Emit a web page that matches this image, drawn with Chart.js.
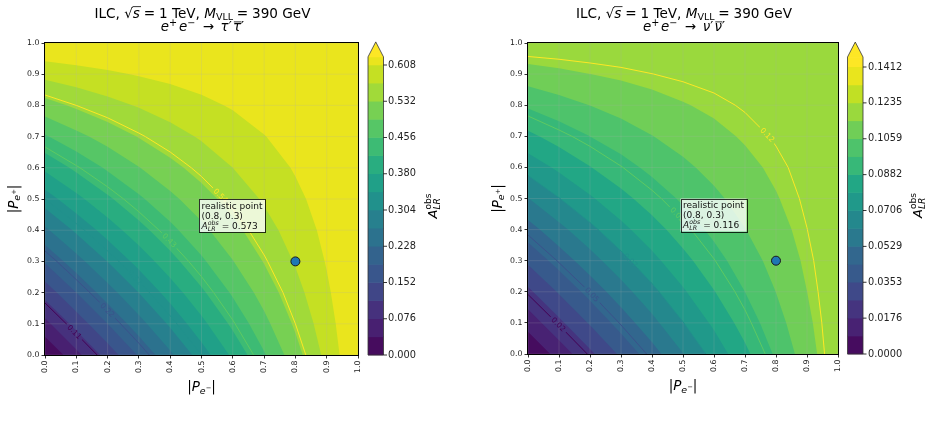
<!DOCTYPE html>
<html><head><meta charset="utf-8">
<script src="https://cdn.jsdelivr.net/npm/chart.js@4.4.1/dist/chart.umd.min.js"></script>
<style>
html,body{margin:0;padding:0;background:#fff;}
body{width:931px;height:425px;position:relative;overflow:hidden;}
canvas{position:absolute;top:0;}
</style></head><body>
<canvas id="cTau" width="465" height="425" style="left:0"></canvas>
<canvas id="cNu" width="448" height="425" style="left:483px"></canvas>
<script>
// ---------------- data ----------------
const polE = [0.0,0.1,0.2,0.3,0.4,0.5,0.6,0.7,0.8,0.9,1.0];   // |P_e-| grid (x)
const polP = [0.0,0.1,0.2,0.3,0.4,0.5,0.6,0.7,0.8,0.9,1.0];   // |P_e+| grid (y)
const axisTicks = [0.0,0.1,0.2,0.3,0.4,0.5,0.6,0.7,0.8,0.9,1.0];

// A_LR^obs, rows follow polP, columns follow polE  (tau' channel)
const tauALR = [
 [0.0000,0.0646,0.1292,0.1938,0.2584,0.3230,0.3876,0.4522,0.5168,0.5814,0.6460],
 [0.0646,0.1279,0.1900,0.2508,0.3106,0.3691,0.4266,0.4830,0.5383,0.5926,0.6460],
 [0.1292,0.1900,0.2485,0.3047,0.3589,0.4111,0.4614,0.5100,0.5569,0.6022,0.6460],
 [0.1938,0.2508,0.3047,0.3556,0.4038,0.4494,0.4927,0.5339,0.5731,0.6104,0.6460],
 [0.2584,0.3106,0.3589,0.4038,0.4455,0.4845,0.5210,0.5552,0.5873,0.6175,0.6460],
 [0.3230,0.3691,0.4111,0.4494,0.4845,0.5168,0.5466,0.5742,0.5999,0.6237,0.6460],
 [0.3876,0.4266,0.4614,0.4927,0.5210,0.5466,0.5700,0.5914,0.6111,0.6292,0.6460],
 [0.4522,0.4830,0.5100,0.5339,0.5552,0.5742,0.5914,0.6070,0.6211,0.6341,0.6460],
 [0.5168,0.5383,0.5569,0.5731,0.5873,0.5999,0.6111,0.6211,0.6302,0.6385,0.6460],
 [0.5814,0.5926,0.6022,0.6104,0.6175,0.6237,0.6292,0.6341,0.6385,0.6424,0.6460],
 [0.6460,0.6460,0.6460,0.6460,0.6460,0.6460,0.6460,0.6460,0.6460,0.6460,0.6460]
];
// nu' channel
const nuALR = [
 [0.0000,0.0123,0.0246,0.0369,0.0492,0.0615,0.0738,0.0861,0.0984,0.1107,0.1230],
 [0.0123,0.0244,0.0362,0.0478,0.0591,0.0703,0.0812,0.0920,0.1025,0.1128,0.1230],
 [0.0246,0.0362,0.0473,0.0580,0.0683,0.0783,0.0879,0.0971,0.1060,0.1147,0.1230],
 [0.0369,0.0478,0.0580,0.0677,0.0769,0.0856,0.0938,0.1016,0.1091,0.1162,0.1230],
 [0.0492,0.0591,0.0683,0.0769,0.0848,0.0923,0.0992,0.1057,0.1118,0.1176,0.1230],
 [0.0615,0.0703,0.0783,0.0856,0.0923,0.0984,0.1041,0.1093,0.1142,0.1188,0.1230],
 [0.0738,0.0812,0.0879,0.0938,0.0992,0.1041,0.1085,0.1126,0.1163,0.1198,0.1230],
 [0.0861,0.0920,0.0971,0.1016,0.1057,0.1093,0.1126,0.1156,0.1183,0.1207,0.1230],
 [0.0984,0.1025,0.1060,0.1091,0.1118,0.1142,0.1163,0.1183,0.1200,0.1216,0.1230],
 [0.1107,0.1128,0.1147,0.1162,0.1176,0.1188,0.1198,0.1207,0.1216,0.1223,0.1230],
 [0.1230,0.1230,0.1230,0.1230,0.1230,0.1230,0.1230,0.1230,0.1230,0.1230,0.1230]
];

const tauFillLevels = [0,0.038,0.076,0.114,0.152,0.190,0.228,0.266,0.304,0.342,0.380,0.418,0.456,0.494,0.532,0.570,0.608,0.646];
const nuFillLevels  = [0,0.008825,0.01765,0.026475,0.0353,0.044125,0.05295,0.061775,0.0706,0.079425,0.08825,0.097075,0.1059,0.114725,0.12355,0.132375,0.1412];

const tauLineLevels = [0.1077,0.2153,0.3230,0.4307,0.5383];
const tauLineLabels = ['0.11','0.22','0.32','0.43','0.54'];
const nuLineLevels  = [0.02353,0.04707,0.0706,0.09413,0.11767];
const nuLineLabels  = ['0.02','0.05','0.07','0.09','0.12'];

const tauCbTicks = [0,0.076,0.152,0.228,0.304,0.380,0.456,0.532,0.608];
const tauCbTickLabels = ['0.000','0.076','0.152','0.228','0.304','0.380','0.456','0.532','0.608'];
const nuCbTicks = [0,0.01765,0.0353,0.05295,0.0706,0.08825,0.1059,0.12355,0.1412];
const nuCbTickLabels = ['0.0000','0.0176','0.0353','0.0529','0.0706','0.0882','0.1059','0.1235','0.1412'];

const realisticPoint = [0.8, 0.3];
const tauRealisticALR = '0.573';
const nuRealisticALR = '0.116';

// ---------------- styling helpers ----------------
const FONT = '"DejaVu Sans"';
const VIRIDIS = ['#440154','#471365','#482475','#46327e','#414487','#3b528b','#355f8d','#31688e','#2a788e','#26828e','#21918c','#1f9e89','#22a884','#35b779','#44bf70','#5ec962','#7ad151','#9fda3a','#bddf26','#dde318','#fde725'];
const OVER = '#fde725';
const GRID = 'rgba(176,176,176,0.25)';
function hx(h){return [parseInt(h.slice(1,3),16),parseInt(h.slice(3,5),16),parseInt(h.slice(5,7),16)];}
function viridis(t){
  t=Math.max(0,Math.min(1,t)); const f=t*20; const i=Math.min(19,Math.floor(f)); const u=f-i;
  const a=hx(VIRIDIS[i]), b=hx(VIRIDIS[i+1]);
  return 'rgb('+[0,1,2].map(k=>Math.round(a[k]+(b[k]-a[k])*u)).join(',')+')';
}
function fnt(q,base){return (q.it?'italic ':'')+(base*(q.sc||1)).toFixed(2)+'px '+FONT;}
function richMeasure(ctx,parts,base){
  let w=0;
  for(const p of parts){const list=p.stack||[p];let m=0;
    for(const q of list){ctx.font=fnt(q,base);m=Math.max(m,ctx.measureText(q.t).width);}
    p._w=m+((p.gl||0)+(p.gr||0))*base;w+=p._w;}
  return w;
}
function drawRich(ctx,parts,x,y,base,align,color){
  const w=richMeasure(ctx,parts,base);
  let cx=align==='center'?x-w/2:(align==='right'?x-w:x);
  ctx.textAlign='left';ctx.textBaseline='alphabetic';ctx.fillStyle=color||'#000';ctx.strokeStyle=color||'#000';
  for(const p of parts){
    const list=p.stack||[p];const ox=(p.gl||0)*base;
    for(const q of list){
      ctx.font=fnt(q,base);const yy=y+(q.dy||0)*base;
      ctx.fillText(q.t,cx+ox,yy);
      if(q.over){const qw=ctx.measureText(q.t).width;ctx.beginPath();ctx.lineWidth=0.8;
        ctx.moveTo(cx+ox+q.over[0]*qw,yy+q.over[2]*base);ctx.lineTo(cx+ox+q.over[1]*qw,yy+q.over[2]*base);ctx.stroke();}
    }
    cx+=p._w;
  }
  return w;
}
function cellCorners(Z,i,j){
  return [[polE[j],polP[i],Z[i][j]],[polE[j+1],polP[i],Z[i][j+1]],[polE[j+1],polP[i+1],Z[i+1][j+1]],[polE[j],polP[i+1],Z[i+1][j]]];
}
function cellPoly(Z,i,j,t){
  const c=cellCorners(Z,i,j);const pts=[];
  for(let k=0;k<4;k++){const a=c[k],b=c[(k+1)%4];const ia=a[2]>=t,ib=b[2]>=t;
    if(ia)pts.push([a[0],a[1]]);
    if(ia!==ib){const f=(t-a[2])/(b[2]-a[2]);pts.push([a[0]+f*(b[0]-a[0]),a[1]+f*(b[1]-a[1])]);}
  }
  return pts;
}
function levelSegs(Z,t){
  const out=[];
  for(let i=0;i<polP.length-1;i++)for(let j=0;j<polE.length-1;j++){
    const c=cellCorners(Z,i,j);const p=[];
    for(let k=0;k<4;k++){const a=c[k],b=c[(k+1)%4];
      if((a[2]>=t)!==(b[2]>=t)){const f=(t-a[2])/(b[2]-a[2]);p.push([a[0]+f*(b[0]-a[0]),a[1]+f*(b[1]-a[1])]);}}
    if(p.length===2)out.push(p);else if(p.length===4){out.push([p[0],p[1]]);out.push([p[2],p[3]]);}
  }
  return out;
}

function panelPlugin(P){
  return {
    id:'panel_'+P.key,
    beforeDatasetsDraw(chart){
      const ctx=chart.ctx,a=chart.chartArea,sx=chart.scales.x,sy=chart.scales.y;
      const X=v=>sx.getPixelForValue(v),Y=v=>sy.getPixelForValue(v);
      const lv=P.fill,n=lv.length,top=lv[n-1];
      ctx.save();ctx.beginPath();ctx.rect(a.left,a.top,a.right-a.left,a.bottom-a.top);ctx.clip();
      for(let k=0;k<n;k++){
        // the extension band only takes values strictly above the last level
        const t=k<n-1?lv[k]:lv[k]+1e-9;
        const col=k<n-1?viridis(((lv[k]+lv[k+1])/2-lv[0])/(top-lv[0])):OVER;
        ctx.beginPath();let any=false;
        for(let i=0;i<polP.length-1;i++)for(let j=0;j<polE.length-1;j++){
          const pts=cellPoly(P.z,i,j,t);if(pts.length<3)continue;
          ctx.moveTo(X(pts[0][0]),Y(pts[0][1]));
          for(let m=1;m<pts.length;m++)ctx.lineTo(X(pts[m][0]),Y(pts[m][1]));
          ctx.closePath();any=true;
        }
        if(any){ctx.fillStyle=col;ctx.fill();}
      }
      // grid
      ctx.strokeStyle=GRID;ctx.lineWidth=0.8;ctx.beginPath();
      sx.ticks.forEach(tk=>{const px=X(tk.value);ctx.moveTo(px,a.top);ctx.lineTo(px,a.bottom);});
      sy.ticks.forEach(tk=>{const py=Y(tk.value);ctx.moveTo(a.left,py);ctx.lineTo(a.right,py);});
      ctx.stroke();
      // contour lines with inline labels
      const nl=P.lines.length;const labs=[];
      const allSegs=P.lines.map(L=>levelSegs(P.z,L).map(s=>s.map(p=>[X(p[0]),Y(p[1])])));
      ctx.font=P.labFont+'px '+FONT;
      P.lines.forEach((L,li)=>{
        const an=P.labelAt[li];if(!an)return;
        const ax=X(an[0]),ay=Y(an[1]);let best=null;
        allSegs[li].forEach(s=>{const dx=s[1][0]-s[0][0],dy=s[1][1]-s[0][1];const l2=dx*dx+dy*dy||1;
          let u=((ax-s[0][0])*dx+(ay-s[0][1])*dy)/l2;u=Math.max(0,Math.min(1,u));
          const qx=s[0][0]+u*dx,qy=s[0][1]+u*dy;const d=(qx-ax)**2+(qy-ay)**2;
          if(!best||d<best.d)best={d,x:qx,y:qy,ang:Math.atan2(dy,dx)};});
        if(!best)return;let ang=best.ang;if(ang>Math.PI/2)ang-=Math.PI;if(ang<=-Math.PI/2)ang+=Math.PI;
        labs.push({x:best.x,y:best.y,ang,text:P.lineLabels[li],col:viridis(li/(nl-1)),w:ctx.measureText(P.lineLabels[li]).width});
      });
      ctx.save();ctx.beginPath();ctx.rect(a.left,a.top,a.right-a.left,a.bottom-a.top);
      labs.forEach(lb=>{const c=Math.cos(lb.ang),s=Math.sin(lb.ang);const hw=lb.w/2+2.5,hh=P.labFont*0.7;
        const pts=[[-hw,-hh],[hw,-hh],[hw,hh],[-hw,hh]].map(p=>[lb.x+p[0]*c-p[1]*s,lb.y+p[0]*s+p[1]*c]);
        ctx.moveTo(pts[0][0],pts[0][1]);for(let m=1;m<4;m++)ctx.lineTo(pts[m][0],pts[m][1]);ctx.closePath();});
      ctx.clip('evenodd');
      ctx.lineWidth=1;
      allSegs.forEach((segs,li)=>{ctx.strokeStyle=viridis(li/(nl-1));ctx.beginPath();
        segs.forEach(s=>{ctx.moveTo(s[0][0],s[0][1]);ctx.lineTo(s[1][0],s[1][1]);});ctx.stroke();});
      ctx.restore();
      labs.forEach(lb=>{ctx.save();ctx.translate(lb.x,lb.y);ctx.rotate(lb.ang);ctx.fillStyle=lb.col;
        ctx.font=P.labFont+'px '+FONT;ctx.textAlign='center';ctx.textBaseline='middle';ctx.fillText(lb.text,0,0.5);ctx.restore();});
      ctx.restore();
    },
    afterDraw(chart){
      const ctx=chart.ctx,a=chart.chartArea,sx=chart.scales.x,sy=chart.scales.y,cb=chart.scales.cb;
      const X=v=>sx.getPixelForValue(v),Y=v=>sy.getPixelForValue(v);
      ctx.save();
      // annotation box
      const bx=X(0.5),by=Y(0.4);
      const l1=[{t:'realistic point'}],l2=[{t:'('+realisticPoint[0]+', '+realisticPoint[1]+')'}];
      const l3=[{t:'A',it:true},{stack:[{t:'obs',it:true,sc:0.7,dy:-0.42},{t:'LR',it:true,sc:0.7,dy:0.24}]},{t:' = '+P.val}];
      const fs=9;const w=Math.max(richMeasure(ctx,l1,fs),richMeasure(ctx,l2,fs),richMeasure(ctx,l3,fs));
      ctx.globalAlpha=0.8;ctx.fillStyle='#fff';ctx.fillRect(bx-2.5,by-31,w+5,33);
      ctx.strokeStyle='#000';ctx.lineWidth=1;ctx.strokeRect(Math.round(bx-2.5)+0.5,Math.round(by-31)+0.5,Math.round(w+5),33);
      ctx.globalAlpha=1;
      drawRich(ctx,l1,bx,by-21.7,fs,'left','#111');
      drawRich(ctx,l2,bx,by-11.7,fs,'left','#111');
      drawRich(ctx,l3,bx,by-1.7,fs,'left','#111');
      // frame
      ctx.strokeStyle='#000';ctx.lineWidth=1;
      ctx.strokeRect(Math.round(a.left)-0.5,Math.round(a.top)-0.5,Math.round(a.right-a.left)+1,Math.round(a.bottom-a.top)+1);
      // colorbar
      const V=v=>cb.getPixelForValue(v);const x0=a.right+P.cbGap,x1=x0+15.5,xm=(x0+x1)/2;
      const lv=P.fill,n=lv.length,top=lv[n-1];const yTop=V(P.cbTop),yBot=V(0);
      for(let k=0;k<n-1;k++){const v0=lv[k];if(v0>=P.cbTop)break;const v1=Math.min(lv[k+1],P.cbTop);
        ctx.fillStyle=viridis(((lv[k]+lv[k+1])/2-lv[0])/(top-lv[0]));ctx.fillRect(x0,V(v1)-0.3,x1-x0,V(v0)-V(v1)+0.6);}
      if(P.cbTop>top){ctx.fillStyle=OVER;ctx.fillRect(x0,yTop,x1-x0,V(top)-yTop);}
      ctx.fillStyle=OVER;ctx.beginPath();ctx.moveTo(x0,yTop+0.3);ctx.lineTo(xm,yTop-15);ctx.lineTo(x1,yTop+0.3);ctx.closePath();ctx.fill();
      ctx.strokeStyle='#333';ctx.lineWidth=0.8;ctx.beginPath();
      ctx.moveTo(x0,yBot);ctx.lineTo(x0,yTop);ctx.lineTo(xm,yTop-15);ctx.lineTo(x1,yTop);ctx.lineTo(x1,yBot);ctx.closePath();ctx.stroke();
      ctx.strokeStyle='#000';ctx.beginPath();
      P.cbTicks.forEach(v=>{const y=V(v);ctx.moveTo(x1,y);ctx.lineTo(x1+3.5,y);});ctx.stroke();
      // titles
      const cx=(a.left+a.right)/2;
      drawRich(ctx,[{t:'ILC, '},{t:'√'},{t:'s',it:true,over:[-0.05,1.15,-0.80]},{t:'=',gl:0.28,gr:0.28},{t:'1 TeV, '},{t:'M',it:true},{t:'VLL',sc:0.7,dy:0.18},{t:'=',gl:0.28,gr:0.28},{t:'390 GeV'}],cx+1,17.5,13.6,'center','#000');
      drawRich(ctx,P.title2,cx+1,31,13.4,'center','#000');
      // axis labels
      drawRich(ctx,[{t:'|'},{t:'P',it:true},{t:'e',it:true,sc:0.7,dy:0.22},{t:'−',sc:0.5,dy:-0.1},{t:'|'}],cx,P.xLabY,13.5,'center','#000');
      ctx.save();ctx.translate(P.yLabX,(a.top+a.bottom)/2);ctx.rotate(-Math.PI/2);
      drawRich(ctx,[{t:'|'},{t:'P',it:true},{t:'e',it:true,sc:0.7,dy:0.22},{t:'+',sc:0.5,dy:-0.1},{t:'|'}],0,4.5,13.5,'center','#000');
      ctx.restore();
      ctx.save();ctx.translate(P.cbLabX,(yTop+yBot)/2);ctx.rotate(-Math.PI/2);
      drawRich(ctx,[{t:'A',it:true},{stack:[{t:'obs',sc:0.7,dy:-0.42},{t:'LR',it:true,sc:0.7,dy:0.24}]}],0,4.5,13,'center','#000');
      ctx.restore();
      ctx.restore();
    }
  };
}

function makePanel(id,P){
  const tickFont={family:'DejaVu Sans',size:7.8};
  return new Chart(document.getElementById(id),{
    type:'scatter',
    data:{datasets:[{data:[{x:realisticPoint[0],y:realisticPoint[1]}],pointRadius:4.5,pointHoverRadius:4.5,
      pointBackgroundColor:'#1f77b4',pointBorderColor:'#1a1a1a',pointBorderWidth:1}]},
    options:{
      responsive:false,animation:false,devicePixelRatio:1,events:[],
      layout:{padding:{left:0,right:0,top:43,bottom:0}},
      plugins:{legend:{display:false},tooltip:{enabled:false},title:{display:false}},
      scales:{
        x:{type:'linear',position:'bottom',min:0,max:1,
          afterBuildTicks:s=>{s.ticks=axisTicks.map(v=>({value:v}));},
          afterFit:s=>{s.height=P.xAxisH;},
          ticks:{autoSkip:false,minRotation:90,maxRotation:90,font:tickFont,color:'#222',padding:2,callback:(v,i)=>axisTicks[i].toFixed(1)},
          grid:{color:'rgba(0,0,0,0)',tickColor:'#000',tickLength:3.5,tickWidth:0.8,drawTicks:true},
          border:{display:false}},
        y:{type:'linear',position:'left',min:0,max:1,
          afterBuildTicks:s=>{s.ticks=axisTicks.map(v=>({value:v}));},
          afterFit:s=>{s.width=P.yAxisW;},
          ticks:{autoSkip:false,font:tickFont,color:'#222',padding:2,callback:(v,i)=>axisTicks[i].toFixed(1)},
          grid:{color:'rgba(0,0,0,0)',tickColor:'#000',tickLength:3.5,tickWidth:0.8,drawTicks:true},
          border:{display:false}},
        cb:{type:'linear',position:'right',min:0,max:P.cbMax,
          afterBuildTicks:s=>{s.ticks=P.cbTicks.map(v=>({value:v}));},
          afterFit:s=>{s.width=P.cbW;},
          ticks:{autoSkip:false,font:{family:'DejaVu Sans',size:9.8},color:'#222',padding:P.cbPad,callback:(v,i)=>P.cbTickLabels[i]},
          grid:{display:false,drawTicks:false},border:{display:false}}
      }
    },
    plugins:[panelPlugin(P)]
  });
}

const tauTitle2=[{t:'e',it:true},{t:'+',sc:0.72,dy:-0.38,gr:0.14},{t:'e',it:true},{t:'−',sc:0.72,dy:-0.38,gr:0.05},{t:'→',gl:0.5,gr:0.5},{t:'τ',it:true},{t:'′',gr:0.1},{t:'τ',it:true,over:[0.1,1.05,-0.68]},{t:'′'}];
const nuTitle2=[{t:'e',it:true},{t:'+',sc:0.72,dy:-0.38,gr:0.14},{t:'e',it:true},{t:'−',sc:0.72,dy:-0.38,gr:0.05},{t:'→',gl:0.5,gr:0.5},{t:'ν',it:true},{t:'′',gr:0.1},{t:'ν',it:true,over:[0.1,1.05,-0.68]},{t:'′'}];

makePanel('cTau',{key:'tau',z:tauALR,fill:tauFillLevels,lines:tauLineLevels,lineLabels:tauLineLabels,
  labelAt:[[0.10,0.08],[0.20,0.145],[0.30,0.26],[0.40,0.37],[0.56,0.51]],labFont:7.5,
  cbTicks:tauCbTicks,cbTickLabels:tauCbTickLabels,cbMax:0.65413,cbTop:0.625,cbGap:10,cbPad:30,cbW:107,
  yAxisW:45,xAxisH:70,val:tauRealisticALR,xLabY:391,yLabX:13,cbLabX:432,title2:tauTitle2});
makePanel('cNu',{key:'nu',z:nuALR,fill:nuFillLevels,lines:nuLineLevels,lineLabels:nuLineLabels,
  labelAt:[[0.103,0.10],[0.206,0.19],[0.33,0.30],[0.48,0.447],[0.768,0.70]],labFont:7.5,
  cbTicks:nuCbTicks,cbTickLabels:nuCbTickLabels,cbMax:0.15301,cbTop:0.1461,cbGap:9.5,cbPad:30,cbW:93,
  yAxisW:45,xAxisH:71,val:nuRealisticALR,xLabY:390,yLabX:14,cbLabX:434,title2:nuTitle2});
</script></body></html>
